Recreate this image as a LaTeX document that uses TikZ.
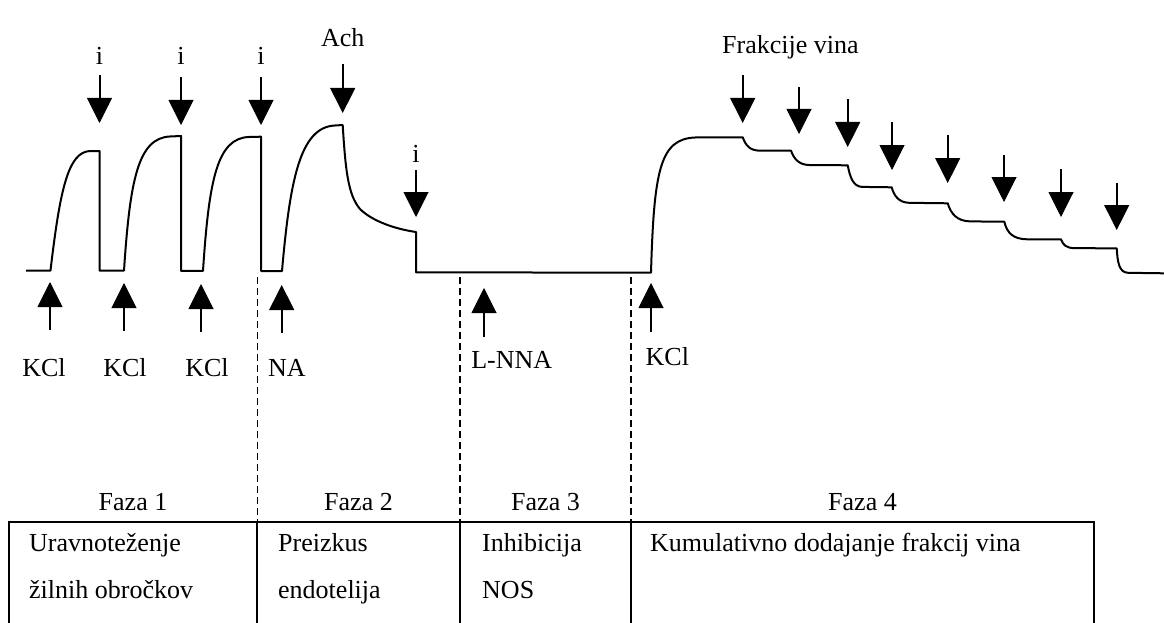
\documentclass[tikz,border=0pt]{standalone}
\usepackage{fontspec}
\setmainfont{Liberation Serif}
\usetikzlibrary{arrows.meta}
\tikzset{
  trace/.style={line width=2pt, line join=round},
  darrow/.style={line width=2pt, -{Triangle[width=25pt,length=25pt,line width=1pt]}},
  phaseline/.style={line width=1.6pt, dash pattern=on 7pt off 4pt},
  tableline/.style={line width=2pt},
  lbl/.style={inner sep=0pt, anchor=base, font=\fontsize{26}{31}\selectfont},
  lblw/.style={inner sep=0pt, anchor=base west, font=\fontsize{26}{31}\selectfont},
}
\begin{document}
\begin{tikzpicture}[x=1pt,y=-1pt]
\useasboundingbox (0,0) rectangle (1164,623);
\fill[white] (0,0) rectangle (1164,623);

% ---------- trace ----------
\draw[trace]
  (26,270.5) -- (50.5,270.5)
  .. controls (60,190) and (68,152) .. (90,151) -- (99.5,151)
  -- (99.5,270.5) -- (124,270.5)
  .. controls (130,180) and (138,138) .. (170,136.5) -- (181,136)
  -- (181,270.8) -- (203,270.8)
  .. controls (209,180) and (217,138) .. (249,137) -- (261,136.7)
  -- (261,271) -- (282,271)
  .. controls (290,180) and (300,127) .. (335,125.5) -- (342.7,125)
  .. controls (345.5,170) and (348,195) .. (360,209)
  .. controls (372,221) and (395,229) .. (416,232)
  -- (416,272.3) -- (651,272.7)
  .. controls (654,170) and (660,139) .. (695,137.5) -- (742.7,137.3)
  .. controls (746,146) and (750,150.5) .. (760,150.7) -- (791,150.7)
  .. controls (794,159) and (799,164.8) .. (809,165) -- (847.7,165.3)
  .. controls (850,177) and (853,186.5) .. (862,186.9) -- (891.7,187.3)
  .. controls (894,196) and (899,202.5) .. (909,202.8) -- (947.7,203.3)
  .. controls (951,214) and (957,221) .. (970,221.4) -- (1004.3,221.7)
  .. controls (1007,233) and (1013,239) .. (1027,239.3) -- (1061,239.3)
  .. controls (1063,245) and (1066,248) .. (1075,248.2) -- (1116.7,248.3)
  .. controls (1117.5,262) and (1119,272.5) .. (1128,272.8) -- (1164,273.3);

% ---------- down arrows ----------
\coordinate (i1s) at (99.5,75);   \coordinate (i1e) at (99.5,123);
\coordinate (i2s) at (181,77);    \coordinate (i2e) at (181,125);
\coordinate (i3s) at (261,77);    \coordinate (i3e) at (261,125);
\coordinate (achs) at (342.7,64); \coordinate (ache) at (342.7,113);
\coordinate (i4s) at (416,170);   \coordinate (i4e) at (416,217);
\coordinate (f1s) at (742.7,75);  \coordinate (f1e) at (742.7,123);
\coordinate (f2s) at (799,87);    \coordinate (f2e) at (799,134);
\coordinate (f3s) at (847.7,99);  \coordinate (f3e) at (847.7,147);
\coordinate (f4s) at (892,122);   \coordinate (f4e) at (892,170);
\coordinate (f5s) at (947.7,135); \coordinate (f5e) at (947.7,183);
\coordinate (f6s) at (1004,155);  \coordinate (f6e) at (1004,202);
\coordinate (f7s) at (1061,169);  \coordinate (f7e) at (1061,217);
\coordinate (f8s) at (1116.7,183);\coordinate (f8e) at (1116.7,230);
\foreach \a in {i1,i2,i3,ach,i4,f1,f2,f3,f4,f5,f6,f7,f8}
  \draw[darrow] (\a s) -- (\a e);

\node[lbl] (li1) at (99.5,65) {i};
\node[lbl] (li2) at (181,65) {i};
\node[lbl] (li3) at (261,65) {i};
\node[lbl] (lach) at (342.7,47) {Ach};
\node[lbl] (li4) at (416,162) {i};
\node[lblw] (lfr) at (722,54) {Frakcije vina};

% ---------- up arrows ----------
\coordinate (k1s) at (50,330);    \coordinate (k1e) at (50,282);
\coordinate (k2s) at (124,331);   \coordinate (k2e) at (124,283);
\coordinate (k3s) at (201,332);   \coordinate (k3e) at (201,284);
\coordinate (nas) at (281.7,333); \coordinate (nae) at (281.7,285);
\coordinate (lns) at (484,337);   \coordinate (lne) at (484,288);
\coordinate (k4s) at (651,332);   \coordinate (k4e) at (651,283);
\foreach \a in {k1,k2,k3,na,ln,k4}
  \draw[darrow] (\a s) -- (\a e);

\node[lbl] (lk1) at (44,376) {KCl};
\node[lbl] (lk2) at (125,376) {KCl};
\node[lbl] (lk3) at (207,376) {KCl};
\node[lbl] (lna) at (287,376) {NA};
\node[lbl] (lln) at (511.7,368) {L-NNA};
\node[lblw] (lk4) at (645.5,365) {KCl};

% ---------- phase separators ----------
\coordinate (d1t) at (257.5,277); \coordinate (d1b) at (257.5,522);
\coordinate (d2t) at (460,277);   \coordinate (d2b) at (460,522);
\coordinate (d3t) at (630.7,277); \coordinate (d3b) at (630.7,522);
\draw[phaseline] (d1t) -- (d1b);
\draw[phaseline] (d2t) -- (d2b);
\draw[phaseline] (d3t) -- (d3b);

\node[lbl] (fz1) at (133,510) {Faza 1};
\node[lbl] (fz2) at (358.5,510) {Faza 2};
\node[lbl] (fz3) at (545.5,510) {Faza 3};
\node[lbl] (fz4) at (862.5,510) {Faza 4};

% ---------- table ----------
\draw[tableline] (9,623) -- (9,522) -- (1094,522) -- (1094,623);
\draw[tableline] (257,522) -- (257,623);
\draw[tableline] (460,522) -- (460,623);
\draw[tableline] (631,522) -- (631,623);

\node[lblw] (t11) at (29,551) {Uravnoteženje};
\node[lblw] (t12) at (29,598) {žilnih obročkov};
\node[lblw] (t21) at (278,551) {Preizkus};
\node[lblw] (t22) at (278,598) {endotelija};
\node[lblw] (t31) at (482,551) {Inhibicija};
\node[lblw] (t32) at (482,598) {NOS};
\node[lblw] (t41) at (650,551) {Kumulativno dodajanje frakcij vina};
\end{tikzpicture}
\end{document}
